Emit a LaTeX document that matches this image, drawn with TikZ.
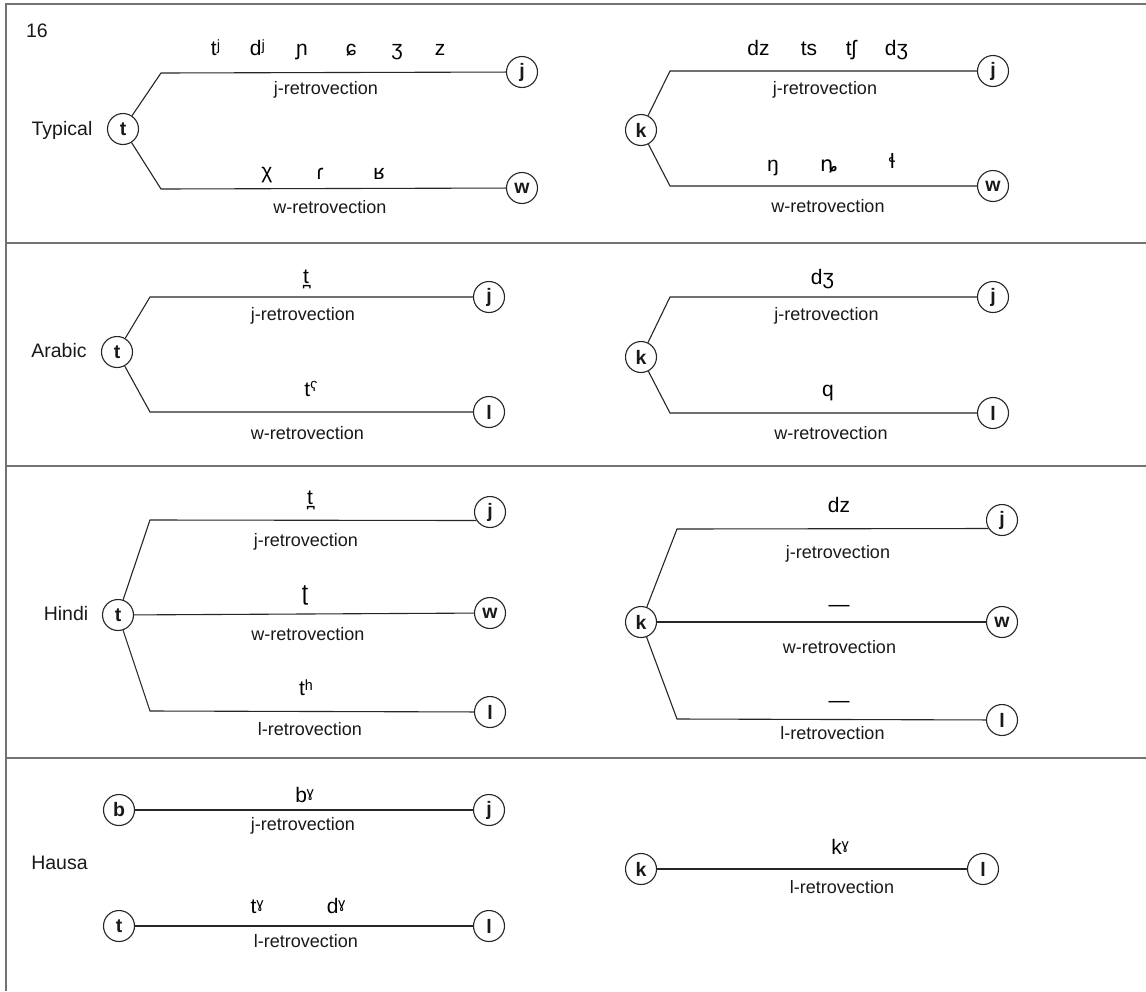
\documentclass[tikz,border=0pt]{standalone}
\usepackage{fontspec}
\setmainfont{Liberation Sans}
\newfontfamily\dvfont{DejaVu Sans}
\begin{document}
\begin{tikzpicture}[x=1pt,y=-1pt,
  frameline/.style={draw=black!55, line width=1.8pt},
  conn/.style={draw=black!85, line width=1.1pt},
  vtx/.style={circle, draw=black!85, line width=1.1pt, minimum size=31pt, inner sep=0pt, fill=white,
              font=\fontsize{19.5}{20}\selectfont\bfseries, text=black!90},
  lab/.style={anchor=mid, inner sep=0pt, font=\fontsize{18}{20}\selectfont, text=black!90},
  ipa/.style={anchor=mid, inner sep=0pt, font=\fontsize{21}{24}\selectfont, text=black},
  lang/.style={anchor=base, inner sep=0pt, font=\fontsize{19.5}{22}\selectfont, text=black!90}]
\useasboundingbox (0,0) rectangle (1146,991);
\fill[white] (0,0) rectangle (1146,991);

% frame
\coordinate (fTL) at (6,4);
\coordinate (fTR) at (1146,4);
\coordinate (fBL) at (6,991);
\draw[frameline] (fTR) -- (fTL) -- (fBL);
\draw[frameline] (6,243) -- (1146,243);
\draw[frameline] (6,466) -- (1146,466);
\draw[frameline] (6,758) -- (1146,758);

\node[lang, anchor=base] (num) at (37,37) {16};

% ---------------- Row 1: Typical ----------------
\node[lang] (typ) at (62,135) {Typical};
\node[vtx] (t1) at (123,129) {t};
\node[vtx] (j1) at (522,72) {j};
\node[vtx] (w1) at (522,188) {w};
\coordinate (a1) at (161,73);
\coordinate (b1) at (161,189);
\draw[conn] (t1) -- (a1) -- (j1);
\draw[conn] (t1) -- (b1) -- (w1);
\node[ipa] (s11) at (215.5,53) {tʲ};
\node[ipa] (s12) at (257.5,53) {dʲ};
\node[ipa] (s13) at (302,53) {ɲ};
\node[ipa] (s14) at (351,53) {ɕ};
\node[ipa] (s15) at (397,53) {ʒ};
\node[ipa] (s16) at (440,53) {z};
\node[lab] (l11) at (326,92) {j-retrovection};
\node[ipa] (s17) at (267,176) {χ};
\node[ipa] (s18) at (320,177) {ɾ};
\node[ipa] (s19) at (379,177) {ʁ};
\node[lab] (l12) at (330,211) {w-retrovection};

\node[vtx] (k1) at (641,130) {k};
\node[vtx] (j1r) at (993,71) {j};
\node[vtx] (w1r) at (993,186) {w};
\coordinate (c1) at (670,71);
\coordinate (d1) at (670,186);
\draw[conn] (k1) -- (c1) -- (j1r);
\draw[conn] (k1) -- (d1) -- (w1r);
\node[ipa] (r11) at (758.5,53) {dz};
\node[ipa] (r12) at (809,53) {ts};
\node[ipa] (r13) at (851,53) {tʃ};
\node[ipa] (r14) at (896.5,53) {dʒ};
\node[lab] (m11) at (825,92) {j-retrovection};
\node[ipa] (r15) at (773,169) {ŋ};
\node[ipa, font=\fontsize{21}{24}\dvfont] (r16) at (829,169) {ȵ};
\node[ipa] (r17) at (892,166) {ɬ};
\node[lab] (m12) at (828,210) {w-retrovection};

% ---------------- Row 2: Arabic ----------------
\node[lang] (ara) at (59,357) {Arabic};
\node[vtx] (t2) at (117,352) {t};
\node[vtx] (j2) at (489,297) {j};
\node[vtx] (l2) at (489,412) {l};
\coordinate (a2) at (150,297);
\coordinate (b2) at (150,412);
\draw[conn] (t2) -- (a2) -- (j2);
\draw[conn] (t2) -- (b2) -- (l2);
\node[ipa] (s21) at (306,281) {t̪};
\node[lab] (l21) at (303,318) {j-retrovection};
\node[ipa] (s22) at (311,394) {tˤ};
\node[lab] (l22) at (307.5,437) {w-retrovection};

\node[vtx] (k2) at (641,357) {k};
\node[vtx] (j2r) at (993,297) {j};
\node[vtx] (l2r) at (993,413) {l};
\coordinate (c2) at (670,297);
\coordinate (d2) at (670,413);
\draw[conn] (k2) -- (c2) -- (j2r);
\draw[conn] (k2) -- (d2) -- (l2r);
\node[ipa] (r21) at (822.5,282) {dʒ};
\node[lab] (m21) at (826.5,318) {j-retrovection};
\node[ipa] (r22) at (828,394) {q};
\node[lab] (m22) at (831,437) {w-retrovection};

% ---------------- Row 3: Hindi ----------------
\node[lang] (hin) at (66,620) {Hindi};
\node[vtx] (t3) at (118,615) {t};
\node[vtx] (j3) at (490,512) {j};
\node[vtx] (w3) at (490,613) {w};
\node[vtx] (l3) at (490,712) {l};
\coordinate (a3) at (150,520);
\coordinate (b3) at (150,711);
\draw[conn] (t3) -- (a3) -- (j3.212);
\draw[conn] (t3) -- (w3);
\draw[conn] (t3) -- (b3) -- (l3);
\node[ipa] (s31) at (310,502) {t̪};
\node[lab] (l31) at (306,544) {j-retrovection};
\node[ipa, font=\fontsize{23}{26}\selectfont] (s32) at (305,598) {ʈ};
\node[lab] (l32) at (308,638) {w-retrovection};
\node[ipa] (s33) at (306,693) {tʰ};
\node[lab] (l33) at (310,733) {l-retrovection};

\node[vtx] (k3) at (641,622) {k};
\node[vtx] (j3r) at (1002,520) {j};
\node[vtx] (w3r) at (1002,622) {w};
\node[vtx] (l3r) at (1002,720) {l};
\coordinate (c3) at (677,529);
\coordinate (d3) at (677,719);
\draw[conn] (k3) -- (c3) -- (j3r.212);
\draw[conn] (k3) -- (w3r);
\draw[conn] (k3) -- (d3) -- (l3r);
\node[ipa] (r31) at (839,510) {dz};
\node[lab] (m31) at (838,556) {j-retrovection};
\node[ipa] (r32) at (839,609) {—};
\node[lab] (m32) at (839.5,651) {w-retrovection};
\node[ipa] (r33) at (839,705) {—};
\node[lab] (m33) at (832.5,737) {l-retrovection};

% ---------------- Row 4: Hausa ----------------
\node[lang] (hau) at (59.5,869) {Hausa};
\node[vtx] (b4) at (119,810) {b};
\node[vtx] (j4) at (489,810) {j};
\node[vtx] (t4) at (119,926) {t};
\node[vtx] (l4) at (489,926) {l};
\draw[conn] (b4) -- (j4);
\draw[conn] (t4) -- (l4);
\node[ipa] (s41) at (304.5,800) {bˠ};
\node[lab] (l41) at (303,828) {j-retrovection};
\node[ipa] (s42) at (257,911) {tˠ};
\node[ipa] (s43) at (336,911) {dˠ};
\node[lab] (l42) at (306,945) {l-retrovection};

\node[vtx] (k4) at (641,869) {k};
\node[vtx] (l4r) at (983,869) {l};
\draw[conn] (k4) -- (l4r);
\node[ipa] (r41) at (840,852) {kˠ};
\node[lab] (m41) at (842,891) {l-retrovection};
\end{tikzpicture}
\end{document}
